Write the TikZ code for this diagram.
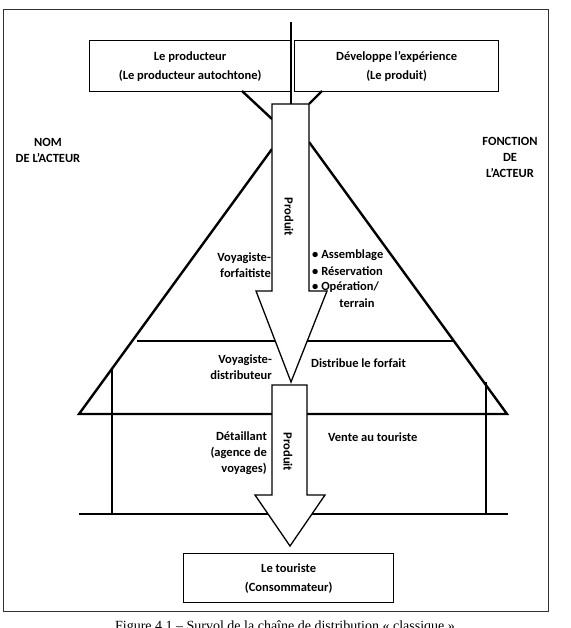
\documentclass[tikz,border=0pt]{standalone}
\usepackage{fontspec}
\setmainfont{Carlito}
\newfontfamily\capfont{Liberation Serif}
\begin{document}
\begin{tikzpicture}[x=1pt,y=-1pt,
  heavy/.style={line width=2.4pt},
  outline/.style={line width=1.3pt},
  lbl/.style={font=\fontsize{12.5}{16}\selectfont\bfseries, inner sep=0pt, align=center},
  box/.style={draw, line width=1.3pt, fill=white, align=center, inner sep=0pt,
    font=\fontsize{12.5}{19}\selectfont\bfseries}
]
\useasboundingbox (0,0) rectangle (570,628);
\draw[line width=0.9pt, black!80] (3,9) rectangle (548,611);

% top boxes
\node[box, minimum width=201pt, minimum height=51pt, anchor=north west] (prod) at (89,40) {Le producteur\\(Le producteur autochtone)};
\node[box, minimum width=204pt, minimum height=51pt, anchor=north west] (dev) at (294,40) {Développe l’expérience\\(Le produit)};

% funnel lines
\coordinate (fl1) at (242,91);
\coordinate (fl2) at (272,119);
\coordinate (fr1) at (322,91);
\coordinate (fr2) at (309,104);
\draw[heavy] (fl1) -- (fl2);
\draw[heavy] (fr1) -- (fr2);

% pyramid and house
\coordinate (apL) at (272,149);
\coordinate (apR) at (309,142);
\coordinate (bL) at (79,414);
\coordinate (bR) at (507,414);
\draw[heavy, line join=miter] (apL) -- (bL) -- (bR) -- (apR);
\draw[heavy] (137,341) -- (455,341);
\draw[heavy] (112,369) -- (112,514);
\draw[heavy] (486,382) -- (486,515);
\draw[heavy] (79,514) -- (508,514);

% arrows
\draw[outline, fill=white, line join=miter] (272,104) -- (272,291) -- (256,291) -- (291,382) -- (327,291) -- (309,291) -- (309,104) -- cycle;
\draw[outline, fill=white, line join=miter] (272,385) -- (272,495) -- (255,495) -- (290,546) -- (325,495) -- (307,495) -- (307,385) -- cycle;

% vertical line at top
\coordinate (vt) at (291,22);
\coordinate (vb) at (291,104);
\draw[heavy] (vt) -- (vb);

% labels
\node[lbl, rotate=-90] (p1) at (289,217) {Produit};
\node[lbl, rotate=-90] (p2) at (288,452) {Produit};

\node[lbl, align=right, anchor=east] (vf) at (271,265.5) {Voyagiste-\\forfaitiste};
\node[lbl, anchor=west] (b1) at (312,255) {\textbullet\ Assemblage};
\node[lbl, anchor=west] (b2) at (312,271) {\textbullet\ Réservation};
\node[lbl, anchor=west] (b3) at (312,287) {\textbullet\ Opération/};
\node[lbl] (b4) at (357,303) {terrain};

\node[lbl, align=right, anchor=east] (vd) at (272,367.5) {Voyagiste-\\distributeur};
\node[lbl, anchor=west] (df) at (311,363) {Distribue le forfait};

\node[lbl, align=right, anchor=east] (det) at (267,453.5) {Détaillant\\(agence de\\voyages)};
\node[lbl, anchor=west] (vt2) at (328,437) {Vente au touriste};

\node[lbl] (nom) at (48,150.5) {NOM\\DE L’ACTEUR};
\node[lbl] (fon) at (510,157.5) {FONCTION\\DE\\L’ACTEUR};

\node[box, minimum width=210pt, minimum height=49pt, anchor=north west] (tour) at (183,553) {Le touriste\\(Consommateur)};

\node[font=\capfont\fontsize{14}{16}\selectfont, inner sep=0pt, anchor=base] (cap) at (285,630) {Figure 4.1 – Survol de la chaîne de distribution « classique »};
\end{tikzpicture}
\end{document}
